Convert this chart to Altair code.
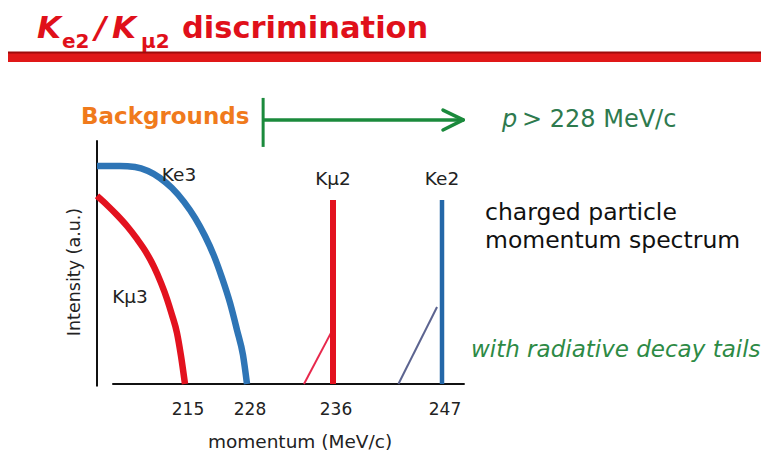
import altair as alt
import pandas as pd

# ---------------- data (momentum in MeV/c, intensity in a.u.) ----------------
ke3_p = [200, 203.92, 206.48, 208.70, 210.74, 212.78, 214.83, 217.10, 219.19, 221.08, 222.76, 224.44, 225.90, 227.16, 228.0]
ke3_i = [91.2, 91.2, 90.8, 89.1, 86.2, 82.0, 76.2, 69.5, 61.9, 53.6, 44.4, 33.9, 22.6, 12.1, 0]
kmu3_p = [200, 201.70, 203.41, 205.11, 206.82, 208.35, 209.72, 210.91, 211.93, 212.78, 213.64, 214.32, 215.0]
kmu3_i = [78.7, 74.9, 70.7, 66.1, 60.7, 55.2, 49.0, 42.3, 35.6, 28.9, 21.3, 11.7, 0]

peak_names = ["Kμ2", "Ke2"]
peak_p = [236, 247]
peak_i = [77, 77]

tail_p0 = [233.3, 242.6]
tail_p1 = [235.8, 246.5]
tail_i1 = [21.3, 32.2]

tick_values = [215, 228, 236, 247]

# axis lines / annotation geometry in data units
xaxis_p = [202.6, 249.3]
yaxis_p = 200
yaxis_i = [-1, 102]
cut_p = 229.5
cut_i = [99.2, 119.7]
arrow_i = 110.5
arrow_tip = 249.15
head_p = [247.1, 247.1]
head_i = [114.6, 106.3]

# piecewise momentum scale (schematic, non-linear axis)
x_dom = [200, 215, 228, 236, 247, 255]
x_rng = [89, 177, 239, 325, 434, 513]
xs = alt.Scale(domain=x_dom, range=x_rng, nice=False, zero=False)
ys = alt.Scale(domain=[0, 100], range=[376, 137], nice=False, zero=False)

FONT = "DejaVu Sans"
BLUE = "#2e75b6"
RED = "#e3121f"
GREEN = "#1b8a3c"
one = pd.DataFrame({"a": [0]})


def X(f="m"):
    return alt.X(f"{f}:Q", scale=xs, axis=None)


def Y(f="i"):
    return alt.Y(f"{f}:Q", scale=ys, axis=None)


def label(text, x, y, size, color, weight="normal", style="normal",
          align="left", baseline="alphabetic", angle=0):
    return alt.Chart(one).mark_text(
        text=text, font=FONT, fontSize=size, fontWeight=weight, fontStyle=style,
        color=color, align=align, baseline=baseline, angle=angle
    ).encode(x=alt.value(x), y=alt.value(y))


def band(y, w, color):
    return alt.Chart(one).mark_rule(color=color, strokeWidth=w).encode(
        x=alt.value(0), x2=alt.value(761), y=alt.value(y))


layers = []

# title
TRED = "#e0101a"
layers += [
    label("K", 29, 30, 31, TRED, "bold", "italic"),
    label("e2", 54, 40, 20, TRED, "bold"),
    label("/", 87, 30, 31, TRED, "bold", "italic"),
    label("K", 104, 30, 31, TRED, "bold", "italic"),
    label("μ2", 133, 40, 20, TRED, "bold"),
    label("discrimination", 174, 30, 30.5, TRED, "bold"),
    band(49.5, 9, "#e01818"),
    band(44.5, 2, "#9e0b0b"),
]

# axes
ax_df = pd.DataFrame({"m": [xaxis_p[0]], "m2": [xaxis_p[1]], "i": [0]})
layers.append(alt.Chart(ax_df).mark_rule(color="#111", strokeWidth=2).encode(
    x=X(), x2="m2:Q", y=Y()))
ay_df = pd.DataFrame({"m": [yaxis_p], "i": [yaxis_i[0]], "i2": [yaxis_i[1]]})
layers.append(alt.Chart(ay_df).mark_rule(color="#111", strokeWidth=2).encode(
    x=X(), y=Y(), y2="i2:Q"))

# continuous spectra
ke3_df = pd.DataFrame({"m": ke3_p, "i": ke3_i})
kmu3_df = pd.DataFrame({"m": kmu3_p, "i": kmu3_i})
layers.append(alt.Chart(ke3_df).mark_line(color=BLUE, strokeWidth=6.5, interpolate="monotone").encode(x=X(), y=Y()))
layers.append(alt.Chart(kmu3_df).mark_line(color=RED, strokeWidth=6.5, interpolate="monotone").encode(x=X(), y=Y()))

# radiative tails
tail_df = pd.DataFrame({"m": tail_p0, "m2": tail_p1, "i": [0, 0], "i2": tail_i1,
                        "k": peak_names})
layers.append(alt.Chart(tail_df).mark_rule(strokeWidth=2).encode(
    x=X(), x2="m2:Q", y=Y(), y2="i2:Q",
    color=alt.Color("k:N", scale=alt.Scale(domain=peak_names, range=["#e8284c", "#5c6490"]), legend=None)))

# two-body peaks
peak_df = pd.DataFrame({"m": peak_p, "i": [0, 0], "i2": peak_i, "k": peak_names})
layers.append(alt.Chart(peak_df[peak_df.k == "Kμ2"]).mark_rule(color=RED, strokeWidth=6).encode(
    x=X(), y=Y(), y2="i2:Q"))
layers.append(alt.Chart(peak_df[peak_df.k == "Ke2"]).mark_rule(color="#2467a8", strokeWidth=4.5).encode(
    x=X(), y=Y(), y2="i2:Q"))
layers.append(alt.Chart(pd.DataFrame({"m": peak_p, "i": peak_i, "k": peak_names})).mark_text(
    font=FONT, fontSize=18.5, color="#222", baseline="middle", dy=-21).encode(
    x=X(), y=Y(), text="k:N"))

# tick labels
tick_df = pd.DataFrame({"m": tick_values, "i": [0] * len(tick_values),
                        "t": [str(v) for v in tick_values]})
layers.append(alt.Chart(tick_df).mark_text(
    font=FONT, fontSize=17, color="#222", baseline="middle", dy=26, dx=3).encode(
    x=X(), y=Y(), text="t:N"))

# curve labels and axis titles
layers += [
    label("Ke3", 171, 167, 18.5, "#222", align="center", baseline="middle"),
    label("Kμ3", 122, 289, 18.5, "#222", align="center", baseline="middle"),
    label("momentum (MeV/c)", 292, 434, 18.5, "#222", align="center", baseline="middle"),
    label("Intensity (a.u.)", 67, 264, 17.5, "#222", align="center", baseline="middle", angle=270),
]

# threshold arrow
cut_df = pd.DataFrame({"m": [cut_p], "i": [cut_i[0]], "i2": [cut_i[1]]})
layers.append(alt.Chart(cut_df).mark_rule(color=GREEN, strokeWidth=3).encode(x=X(), y=Y(), y2="i2:Q"))
shaft_df = pd.DataFrame({"m": [cut_p], "m2": [arrow_tip], "i": [arrow_i]})
layers.append(alt.Chart(shaft_df).mark_rule(color=GREEN, strokeWidth=3.5).encode(x=X(), x2="m2:Q", y=Y()))
head_df = pd.DataFrame({"m": head_p, "i": head_i, "m2": [arrow_tip] * 2, "i2": [arrow_i] * 2})
layers.append(alt.Chart(head_df).mark_rule(color=GREEN, strokeWidth=3.5, strokeCap="round").encode(
    x=X(), y=Y(), x2="m2:Q", y2="i2:Q"))

# annotations
layers += [
    label("Backgrounds", 73, 116, 23, "#f07a1c", "bold"),
    label("p", 494, 119, 24, "#2e7a4e", style="italic"),
    label("> 228 MeV/c", 514, 119, 24, "#2e7a4e"),
    label("charged particle", 477, 212, 23.5, "#111"),
    label("momentum spectrum", 477, 240, 23.5, "#111"),
    label("with radiative decay tails", 463, 349, 23, "#2d8a45", style="italic"),
]

chart = alt.layer(*layers).properties(
    width=753, height=446, padding=0,
    autosize=alt.AutoSizeParams(type="none"),
    background="white",
).configure_view(stroke=None)

chart.save("out.html", embed_options={"renderer": "svg", "actions": False})
